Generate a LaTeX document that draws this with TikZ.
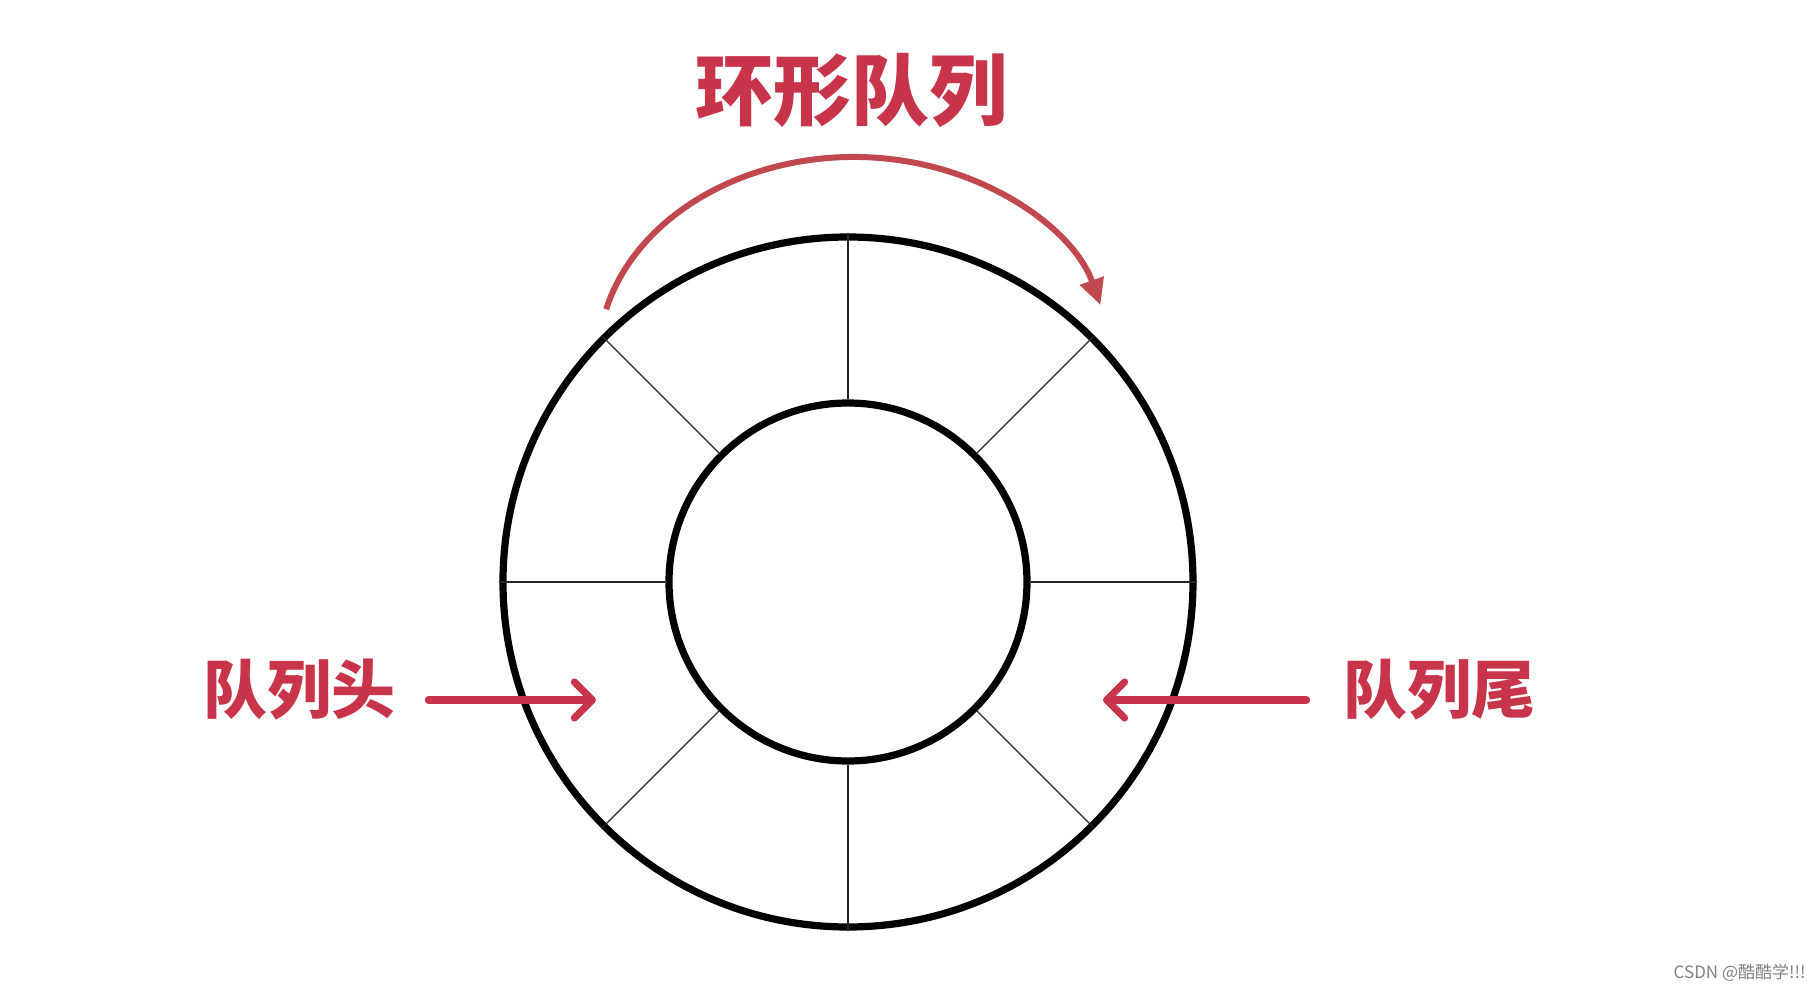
\documentclass[tikz,border=0pt]{standalone}
\usepackage{fontspec}
\usepackage{tikz}
\usetikzlibrary{arrows.meta}
\usetikzlibrary{positioning}
\newfontfamily\cjk{Noto Sans CJK SC}
\definecolor{qred}{RGB}{200, 52, 74}
\definecolor{qarc}{RGB}{192, 72, 78}
\definecolor{qgray}{RGB}{130, 130, 130}
\tikzset{ring/.style = {draw, circle, line width=3.6pt, inner sep=0pt},
         spoke/.style = {line width=0.7pt, draw=black!85},
         label/.style = {text=qred, font=\cjk\bfseries\fontsize{32pt}{32pt}\selectfont, inner sep=0pt},
         pointer/.style = {draw=qred, line width=3.6pt, line cap=round,
                           -{Straight Barb[length=9pt, width=18pt, round]}}}

\begin{document}
\begin{tikzpicture}[x=0.5pt, y=0.5pt]
    \useasboundingbox [fill=white] (-848, -404) rectangle (969, 582);

    \node [ring, minimum size=345pt] (outer) at (0, 0) {};
    \node [ring, minimum size=179pt] (inner) at (0, 0) {};

    \foreach \a in {0, 45, ..., 315}
      \draw [spoke] (inner.\a) -- (outer.\a);

    \node [label, font=\cjk\bfseries\fontsize{39pt}{39pt}\selectfont] (title) at (4, 492) {环形队列};

    \draw [qarc, line width=3pt, -{Triangle[length=13pt, width=12pt]}]
      (6, 222) ++(165.5:256 and 203) arc [start angle=165.5, end angle=15.7, x radius=256, y radius=203];

    \node [label] (head) at (-548, -108) {队列头};
    \node [label] (tail) at (591, -108) {队列尾};

    \coordinate (headtip) at (-252, -118);
    \coordinate (tailtip) at (255, -118);

    \draw [pointer, shorten <=16pt] (head.east |- headtip) -- (headtip);
    \draw [pointer, shorten <=18pt] (tail.west |- tailtip) -- (tailtip);

    \node [anchor=east, text=qgray, font=\cjk\fontsize{8.5pt}{8.5pt}\selectfont, inner sep=0pt] (mark) at (958, -391) {CSDN @酷酷学!!!};
  \end{tikzpicture}
\end{document}
